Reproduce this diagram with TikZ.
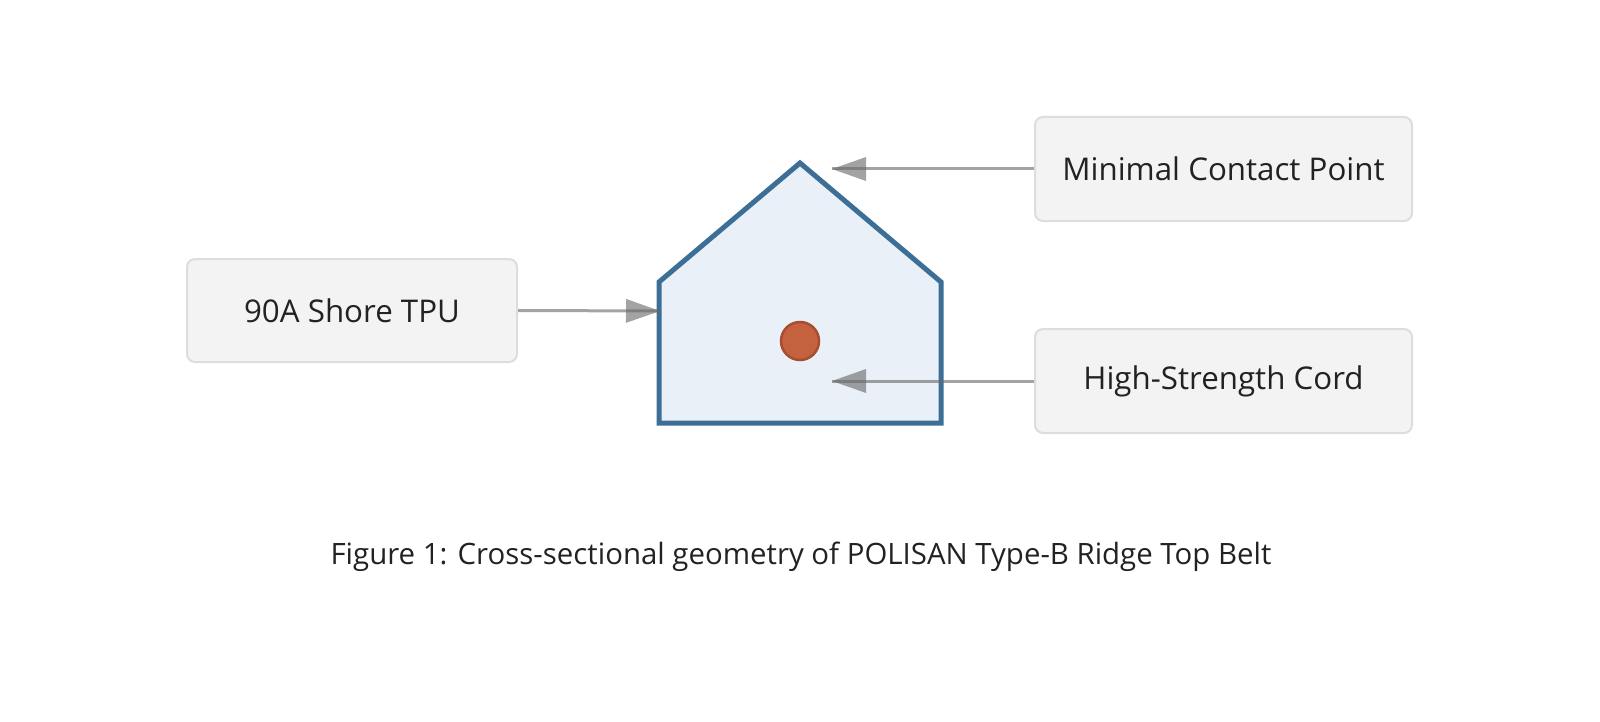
\documentclass[tikz,border=0pt]{standalone}
\usepackage{fontspec}
\setmainfont{Open Sans}
\usetikzlibrary{arrows.meta,calc}
\definecolor{boxfill}{HTML}{F3F3F3}
\definecolor{boxline}{HTML}{DDDDDD}
\definecolor{txt}{HTML}{222222}
\definecolor{beltline}{HTML}{3D6E95}
\definecolor{beltfill}{HTML}{E9F0F7}
\definecolor{cordfill}{HTML}{C4623F}
\definecolor{cordline}{HTML}{A84E30}
\definecolor{arr}{HTML}{666666}
\tikzset{
  labelbox/.style={draw=boxline, line width=2pt, fill=boxfill, rounded corners=8pt,
    text=txt, font=\fontsize{31.3}{36}\selectfont, inner sep=0pt, anchor=center},
  conn/.style={draw=arr, opacity=0.6, line width=3pt,
    -{Triangle[length=34pt,width=24pt,line width=0pt]}},
  connover/.style={draw=arr, opacity=0.6, line width=3pt},
}
\begin{document}
\begin{tikzpicture}[x=1pt,y=-1pt]
\useasboundingbox (0,0) rectangle (1600,722);
% belt cross-section
\draw[line width=5pt, draw=beltline, fill=beltfill, line join=miter]
  (659,423) -- (659,282) -- (800,163) -- (941,282) -- (941,423) -- cycle;
\node[circle, fill=cordfill, draw=cordline, line width=2.5pt, minimum size=38pt, inner sep=0pt] (cord) at (800,341) {};
% target points
\coordinate (tipm) at (832,169);
\coordinate (tipt) at (660,311);
\coordinate (tipc) at (832,381);
% label boxes
\node[labelbox, minimum width=377pt, minimum height=104pt] (m) at (1223.5,169) {Minimal Contact Point};
\node[labelbox, minimum width=377pt, minimum height=104pt] (c) at (1223.5,381) {High-Strength Cord};
\node[labelbox, minimum width=330pt, minimum height=103pt] (t) at (352,310.5) {90A Shore TPU};
% connectors
\draw[conn] (m.west) -- (tipm);
\draw[conn] (c.west) -- (tipc);
\draw[conn] (t.east) -- (tipt);
% line running on under the heads
\draw[connover] (tipm) -- ($(tipm)!34pt!(m.west)$);
\draw[connover] (tipc) -- ($(tipc)!34pt!(c.west)$);
\draw[connover] (tipt) -- ($(tipt)!34pt!(t.east)$);
% caption
\node[text=txt, font=\fontsize{29.4}{34}\selectfont] (cap) at (801,557) {Figure 1: Cross-sectional geometry of POLISAN Type-B Ridge Top Belt};
\end{tikzpicture}
\end{document}
